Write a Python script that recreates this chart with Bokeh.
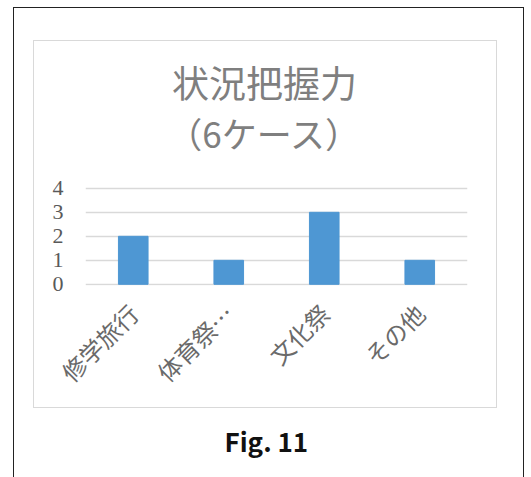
from bokeh.plotting import figure
from bokeh.models import Range1d, FactorRange, FixedTicker, Title, Label, InlineStyleSheet
from bokeh.embed import file_html
from bokeh.resources import INLINE
import math

categories = ["修学旅行", "体育祭…", "文化祭", "その他"]
counts = [2, 1, 3, 1]
y_ticks = [0, 1, 2, 3, 4]
title_line1 = "状況把握力"
title_line2 = "（6ケース）"
caption = "Fig. 11"

W, H = 531, 477
FL, FR, FT, FB = 85, 467, 0, 285  # frame edges in canvas pixels
PX_PER_UNIT = 24.0
Y0 = -0.05
Y1 = Y0 + (FB - FT) / PX_PER_UNIT   # frame reaches the top so the title can sit inside it

p = figure(width=W, height=H, title=None, x_range=FactorRange(*categories, range_padding=0),
           y_range=Range1d(Y0, Y1), output_backend="svg", toolbar_location=None,
           min_border_left=FL, min_border_right=W - FR,
           min_border_top=FT, min_border_bottom=H - FB)
p.outline_line_color = None
p.background_fill_color = "white"
p.border_fill_color = "white"

p.vbar(x=categories, top=counts, width=0.31, color="#4e97d3", line_color="#4e97d3")

p.yaxis.ticker = FixedTicker(ticks=y_ticks)
p.yaxis.axis_line_color = None
p.yaxis.major_tick_line_color = None
p.yaxis.minor_tick_line_color = None
p.yaxis.major_tick_out = 0
p.yaxis.major_tick_in = 0
p.yaxis.major_label_text_font = "Liberation Serif"
p.yaxis.major_label_text_font_size = "22px"
p.yaxis.major_label_text_color = "#595959"
p.yaxis.major_label_standoff = 22

p.xaxis.axis_line_color = None
p.xaxis.major_tick_line_color = None
p.xaxis.major_tick_out = 0
p.xaxis.major_tick_in = 0
p.xaxis.major_label_orientation = math.pi / 4
p.xaxis.major_label_text_font = "Noto Sans CJK JP"
p.xaxis.major_label_text_font_size = "24px"
p.xaxis.major_label_text_color = "#6a6a6a"
p.xaxis.major_label_standoff = 23

p.xgrid.grid_line_color = None
p.ygrid.grid_line_color = "#d9d9d9"
p.ygrid.grid_line_width = 1.5

def fx(x):
    return x - FL

def fy(y_top):
    return FB - y_top

p.add_layout(Label(x=fx(264), y=fy(81), x_units="screen", y_units="screen", text=title_line1,
                   text_align="center", text_baseline="middle",
                   text_font="Noto Sans CJK JP", text_font_size="37px", text_color="#7f7f7f"))
p.add_layout(Label(x=fx(264), y=fy(132), x_units="screen", y_units="screen", text=title_line2,
                   text_align="center", text_baseline="middle",
                   text_font="Noto Sans CJK JP", text_font_size="35px", text_color="#7f7f7f"))

p.add_layout(Title(text=caption, align="left", offset=139, standoff=31,
                   text_font="Noto Sans CJK JP", text_font_size="26px",
                   text_font_style="bold", text_color="#111111"), "below")

# outer black frame and inner gray chart frame drawn with CSS
p.stylesheets = [InlineStyleSheet(css="""
:host { position: relative; }
:host::before { content: ""; position: absolute; left: 13px; top: 7px; width: 511px; height: 500px;
  border: 1.5px solid #222222; box-sizing: border-box; z-index: 20; pointer-events: none; }
:host::after { content: ""; position: absolute; left: 33px; top: 40px; width: 464px; height: 368px;
  border: 1.5px solid #d9d9d9; box-sizing: border-box; z-index: 20; pointer-events: none; }
""")]

open("out.html", "w").write(file_html(p, INLINE))
